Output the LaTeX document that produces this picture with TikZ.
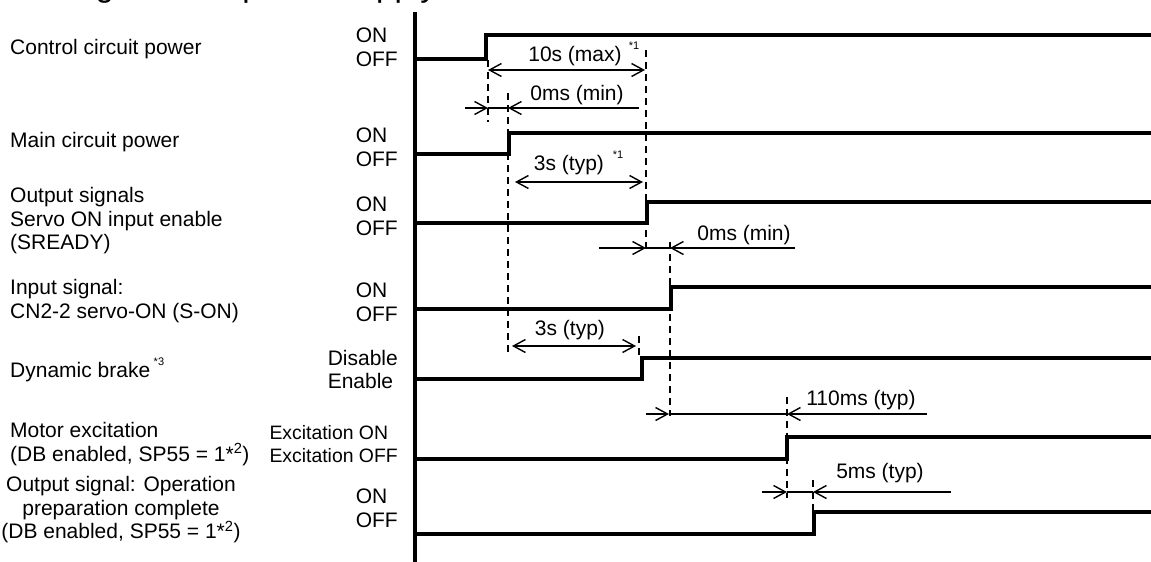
\documentclass[tikz,border=0pt]{standalone}
\usepackage{fontspec}
\setmainfont{Liberation Sans}
\usetikzlibrary{arrows.meta}
\begin{document}
\begin{tikzpicture}[x=1pt,y=-1pt,
  lbl/.style={font=\fontsize{21}{23.5}\selectfont, inner sep=0pt},
  sup/.style={font=\fontsize{11}{12}\selectfont, inner sep=0pt},
  sig/.style={line width=3.8pt},
  guide/.style={line width=1.4pt, dash pattern=on 7pt off 5pt},
  dim/.style={line width=1.4pt},
  tip/.style={-{Straight Barb[length=12pt,width=13pt,line width=1.4pt]}},
  tips/.style={{Straight Barb[length=12pt,width=13pt,line width=1.4pt]}-{Straight Barb[length=12pt,width=13pt,line width=1.4pt]}}]
\useasboundingbox (0,0) rectangle (1151,562);
\fill[white] (0,0) rectangle (1151,562);
% clipped title
\node[anchor=base west, font=\fontsize{33}{36}\selectfont, inner sep=0pt] (title) at (16,-3) {Timing chart at power supply ON};
% left labels
\node[lbl, anchor=west] (l1) at (10,49) {Control circuit power};
\node[lbl, anchor=west] (l2) at (10,142) {Main circuit power};
\node[lbl, anchor=west, align=left] (l3) at (10,221) {Output signals\\Servo ON input enable\\(SREADY)};
\node[lbl, anchor=west, align=left] (l4) at (10,301) {Input signal:\\CN2-2 servo-ON (S-ON)};
\node[lbl, anchor=west] (l5) at (10,370) {Dynamic brake\,\raisebox{1.1ex}{\fontsize{11}{12}\selectfont *3}};
\node[lbl, anchor=west, align=left] (l6) at (10,444) {Motor excitation\\(DB enabled, SP55 = 1*\textsuperscript{2})};
\node[lbl, align=center] (l7) at (121,510) {Output signal: Operation\\preparation complete\\(DB enabled, SP55 = 1*\textsuperscript{2})};
% state labels
\node[lbl, anchor=east, align=left] (s1) at (398,47.5) {ON\\OFF};
\node[lbl, anchor=east, align=left] (s2) at (398,147.5) {ON\\OFF};
\node[lbl, anchor=east, align=left] (s3) at (398,216.5) {ON\\OFF};
\node[lbl, anchor=east, align=left] (s4) at (398,302.5) {ON\\OFF};
\node[lbl, anchor=east, align=left] (s5) at (398,369.5) {Disable\\Enable};
\node[lbl, anchor=east, align=left, font=\fontsize{19.4}{23}\selectfont] (s6) at (398,444.5) {Excitation ON\\Excitation OFF};
\node[lbl, anchor=east, align=left] (s7) at (398,508.5) {ON\\OFF};
% dashed guides
\draw[guide] (488,60) -- (488,122);
\draw[guide] (508,93) -- (508,352);
\draw[guide] (646,50) -- (646,250);
\draw[guide] (670,242) -- (670,416);
\draw[guide] (639,336) -- (639,358);
\draw[guide] (787,397) -- (787,498);
\draw[guide] (813,480) -- (813,512);
% axis
\draw[line width=3.2pt] (415,12) -- (415,562);
% signals
\draw[sig] (415,59) -| (486,35) -- (1151,35);
\draw[sig] (415,154) -| (509,133) -- (1151,133);
\draw[sig] (415,223) -| (647,202) -- (1151,202);
\draw[sig] (415,309) -| (671,287) -- (1151,287);
\draw[sig] (415,379) -| (642,358) -- (1151,358);
\draw[sig] (415,459) -| (787,437) -- (1151,437);
\draw[sig] (415,534) -| (814,512) -- (1151,512);
% dimension coordinates
\coordinate (a1) at (488,70); \coordinate (a2) at (645,70);
\coordinate (b0) at (465,108); \coordinate (b1) at (488,108); \coordinate (b2) at (508,108); \coordinate (b3) at (639,108);
\coordinate (c1) at (515,182); \coordinate (c2) at (643,182);
\coordinate (d0) at (599,248); \coordinate (d1) at (646,248); \coordinate (d2) at (670,248); \coordinate (d3) at (795,248);
\coordinate (e1) at (512,346); \coordinate (e2) at (636,346);
\coordinate (f0) at (646,414); \coordinate (f1) at (669,414); \coordinate (f2) at (787,414); \coordinate (f3) at (927,414);
\coordinate (g0) at (762,492); \coordinate (g1) at (787,492); \coordinate (g2) at (813,492); \coordinate (g3) at (951,492);
% dimensions
\draw[dim, tips] (a1) -- (a2);
\draw[dim, tip] (b0) -- (b1); \draw[dim] (b1) -- (b2); \draw[dim, tip] (b3) -- (b2);
\draw[dim, tips] (c1) -- (c2);
\draw[dim, tip] (d0) -- (d1); \draw[dim] (d1) -- (d2); \draw[dim, tip] (d3) -- (d2);
\draw[dim, tips] (e1) -- (e2);
\draw[dim, tip] (f0) -- (f1); \draw[dim] (f1) -- (f2); \draw[dim, tip] (f3) -- (f2);
\draw[dim, tip] (g0) -- (g1); \draw[dim] (g1) -- (g2); \draw[dim, tip] (g3) -- (g2);
% dimension labels
\node[lbl] (ta) at (575,56) {10s (max)};
\node[sup] (ta1) at (634,46) {*1};
\node[lbl] (tb) at (577,95) {0ms (min)};
\node[lbl] (tc) at (569,165) {3s (typ)};
\node[sup] (tc1) at (618,155) {*1};
\node[lbl] (td) at (744,235) {0ms (min)};
\node[lbl] (te) at (570,330) {3s (typ)};
\node[lbl] (tf) at (861,400) {110ms (typ)};
\node[lbl] (tg) at (880,473) {5ms (typ)};
\end{tikzpicture}
\end{document}
